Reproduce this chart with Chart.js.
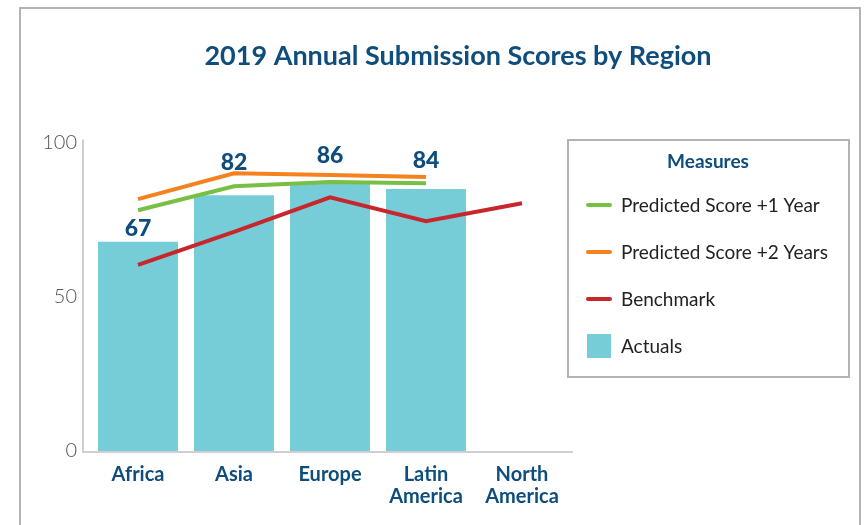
<!DOCTYPE html>
<html>
<head>
<meta charset="utf-8">
<script src="https://cdn.jsdelivr.net/npm/chart.js@4/dist/chart.umd.min.js"></script>
<style>
  body { margin: 0; background: #fff; }
  #wrap { position: relative; width: 865px; height: 525px; overflow: hidden; }
  #frame { position: absolute; left: 19px; top: 7px; width: 842px; height: 600px;
           border: 2px solid #b3b3b3; border-bottom: none; box-sizing: border-box; }
  #c { position: absolute; left: 0; top: 0; }
</style>
</head>
<body>
<div id="wrap">
  <div id="frame"></div>
  <canvas id="c" width="865" height="525"></canvas>
</div>
<script>
const regions = ['Africa', 'Asia', 'Europe', ['Latin', 'America'], ['North', 'America']];
const actuals = [67.8, 82.9, 86.8, 84.9, null];
const predicted1 = [78, 85.8, 87.2, 86.8, null];
const predicted2 = [81.6, 90, 89.4, 88.8, null];
const benchmark = [60.3, 71, 82.2, 74.5, 80.3];
const yTicks = [0, 50, 100];

// how far above the bar top each value label sits
const labelLift = [13, 33, 28, 28, 0];

const navy = '#0e4d7c';

const valueLabels = {
  id: 'valueLabels',
  afterDatasetsDraw(chart) {
    const ctx = chart.ctx;
    const idx = chart.data.datasets.findIndex(d => d.type === 'bar');
    const meta = chart.getDatasetMeta(idx);
    ctx.save();
    ctx.fillStyle = navy;
    ctx.font = '900 23px Lato';
    ctx.textAlign = 'center';
    ctx.textBaseline = 'middle';
    meta.data.forEach((bar, i) => {
      const v = actuals[i];
      if (v == null) return;
      ctx.fillText(Math.floor(v), bar.x, bar.y - labelLift[i]);
    });
    ctx.restore();
  }
};

const axisLines = {
  id: 'axisLines',
  beforeDatasetsDraw(chart) {
    const { ctx, chartArea: a } = chart;
    ctx.save();
    ctx.strokeStyle = '#cfcfcf';
    ctx.lineWidth = 2;
    ctx.beginPath();
    ctx.moveTo(a.left - 7, a.top - 3);
    ctx.lineTo(a.left - 7, a.bottom + 1);
    ctx.lineTo(a.right + 3, a.bottom + 1);
    ctx.stroke();
    ctx.restore();
  }
};

const boxLegend = {
  id: 'boxLegend',
  afterDraw(chart) {
    const ctx = chart.ctx;
    const left = chart.chartArea.right - 2, top = 140, w = 281, h = 237;
    ctx.save();
    ctx.strokeStyle = '#b3b3b3';
    ctx.lineWidth = 2;
    ctx.strokeRect(left, top, w, h);
    ctx.fillStyle = navy;
    ctx.font = 'bold 19px Lato';
    ctx.textAlign = 'center';
    ctx.textBaseline = 'middle';
    ctx.fillText('Measures', left + 140, top + 22);
    ctx.textAlign = 'left';
    ctx.font = '19px Lato';
    chart.data.datasets.forEach((ds, i) => {
      const y = top + 65 + i * 47;
      const x = left + 19;
      if (ds.type === 'bar') {
        ctx.fillStyle = ds.backgroundColor;
        ctx.fillRect(x, y - 12, 24, 24);
      } else {
        ctx.strokeStyle = ds.borderColor;
        ctx.lineWidth = 4;
        ctx.lineCap = 'round';
        ctx.beginPath();
        ctx.moveTo(x + 1, y);
        ctx.lineTo(x + 23, y);
        ctx.stroke();
      }
      ctx.fillStyle = '#222';
      ctx.fillText(ds.label, left + 53, y + 1);
    });
    ctx.restore();
  }
};

const lineDs = (label, data, color, order) => ({
  type: 'line', label, data, borderColor: color, backgroundColor: color,
  borderWidth: 4, pointRadius: 0, tension: 0, order, clip: false
});

new Chart(document.getElementById('c'), {
  data: {
    labels: regions,
    datasets: [
      lineDs('Predicted Score +1 Year', predicted1, '#78bf45', 2),
      lineDs('Predicted Score +2 Years', predicted2, '#f5821f', 1),
      lineDs('Benchmark', benchmark, '#c8262d', 0),
      {
        type: 'bar', label: 'Actuals', data: actuals, backgroundColor: '#76cdd8',
        barPercentage: 1, categoryPercentage: 80 / 96, order: 5
      }
    ]
  },
  options: {
    responsive: false,
    animation: false,
    layout: { padding: { left: 36, right: -15, top: 0, bottom: 0 } },
    plugins: {
      legend: { display: false },
      tooltip: { enabled: false },
      title: {
        display: true,
        text: '2019 Annual Submission Scores by Region',
        color: navy,
        font: { family: 'Lato', size: 27, weight: 'bold' },
        padding: { top: 40, bottom: 70 }
      }
    },
    scales: {
      x: {
        grid: { display: false },
        border: { display: false },
        afterFit: s => { s.height = 74; },
        ticks: {
          color: navy, padding: 5, maxRotation: 0,
          font: { family: 'Lato', size: 20, weight: 'bold', lineHeight: 1.1 }
        }
      },
      y: {
        min: 0, max: 100,
        afterFit: s => { s.width = 54; },
        afterBuildTicks: s => { s.ticks = yTicks.map(v => ({ value: v })); },
        grid: { display: false, drawTicks: false },
        border: { display: false },
        ticks: {
          color: '#555', padding: 13,
          font: { family: 'Lato', size: 20, weight: '300' }
        }
      },
      side: {
        position: 'right',
        afterFit: s => { s.width = 310; },
        grid: { display: false },
        border: { display: false },
        ticks: { display: false }
      }
    }
  },
  plugins: [axisLines, valueLabels, boxLegend]
});
</script>
</body>
</html>
